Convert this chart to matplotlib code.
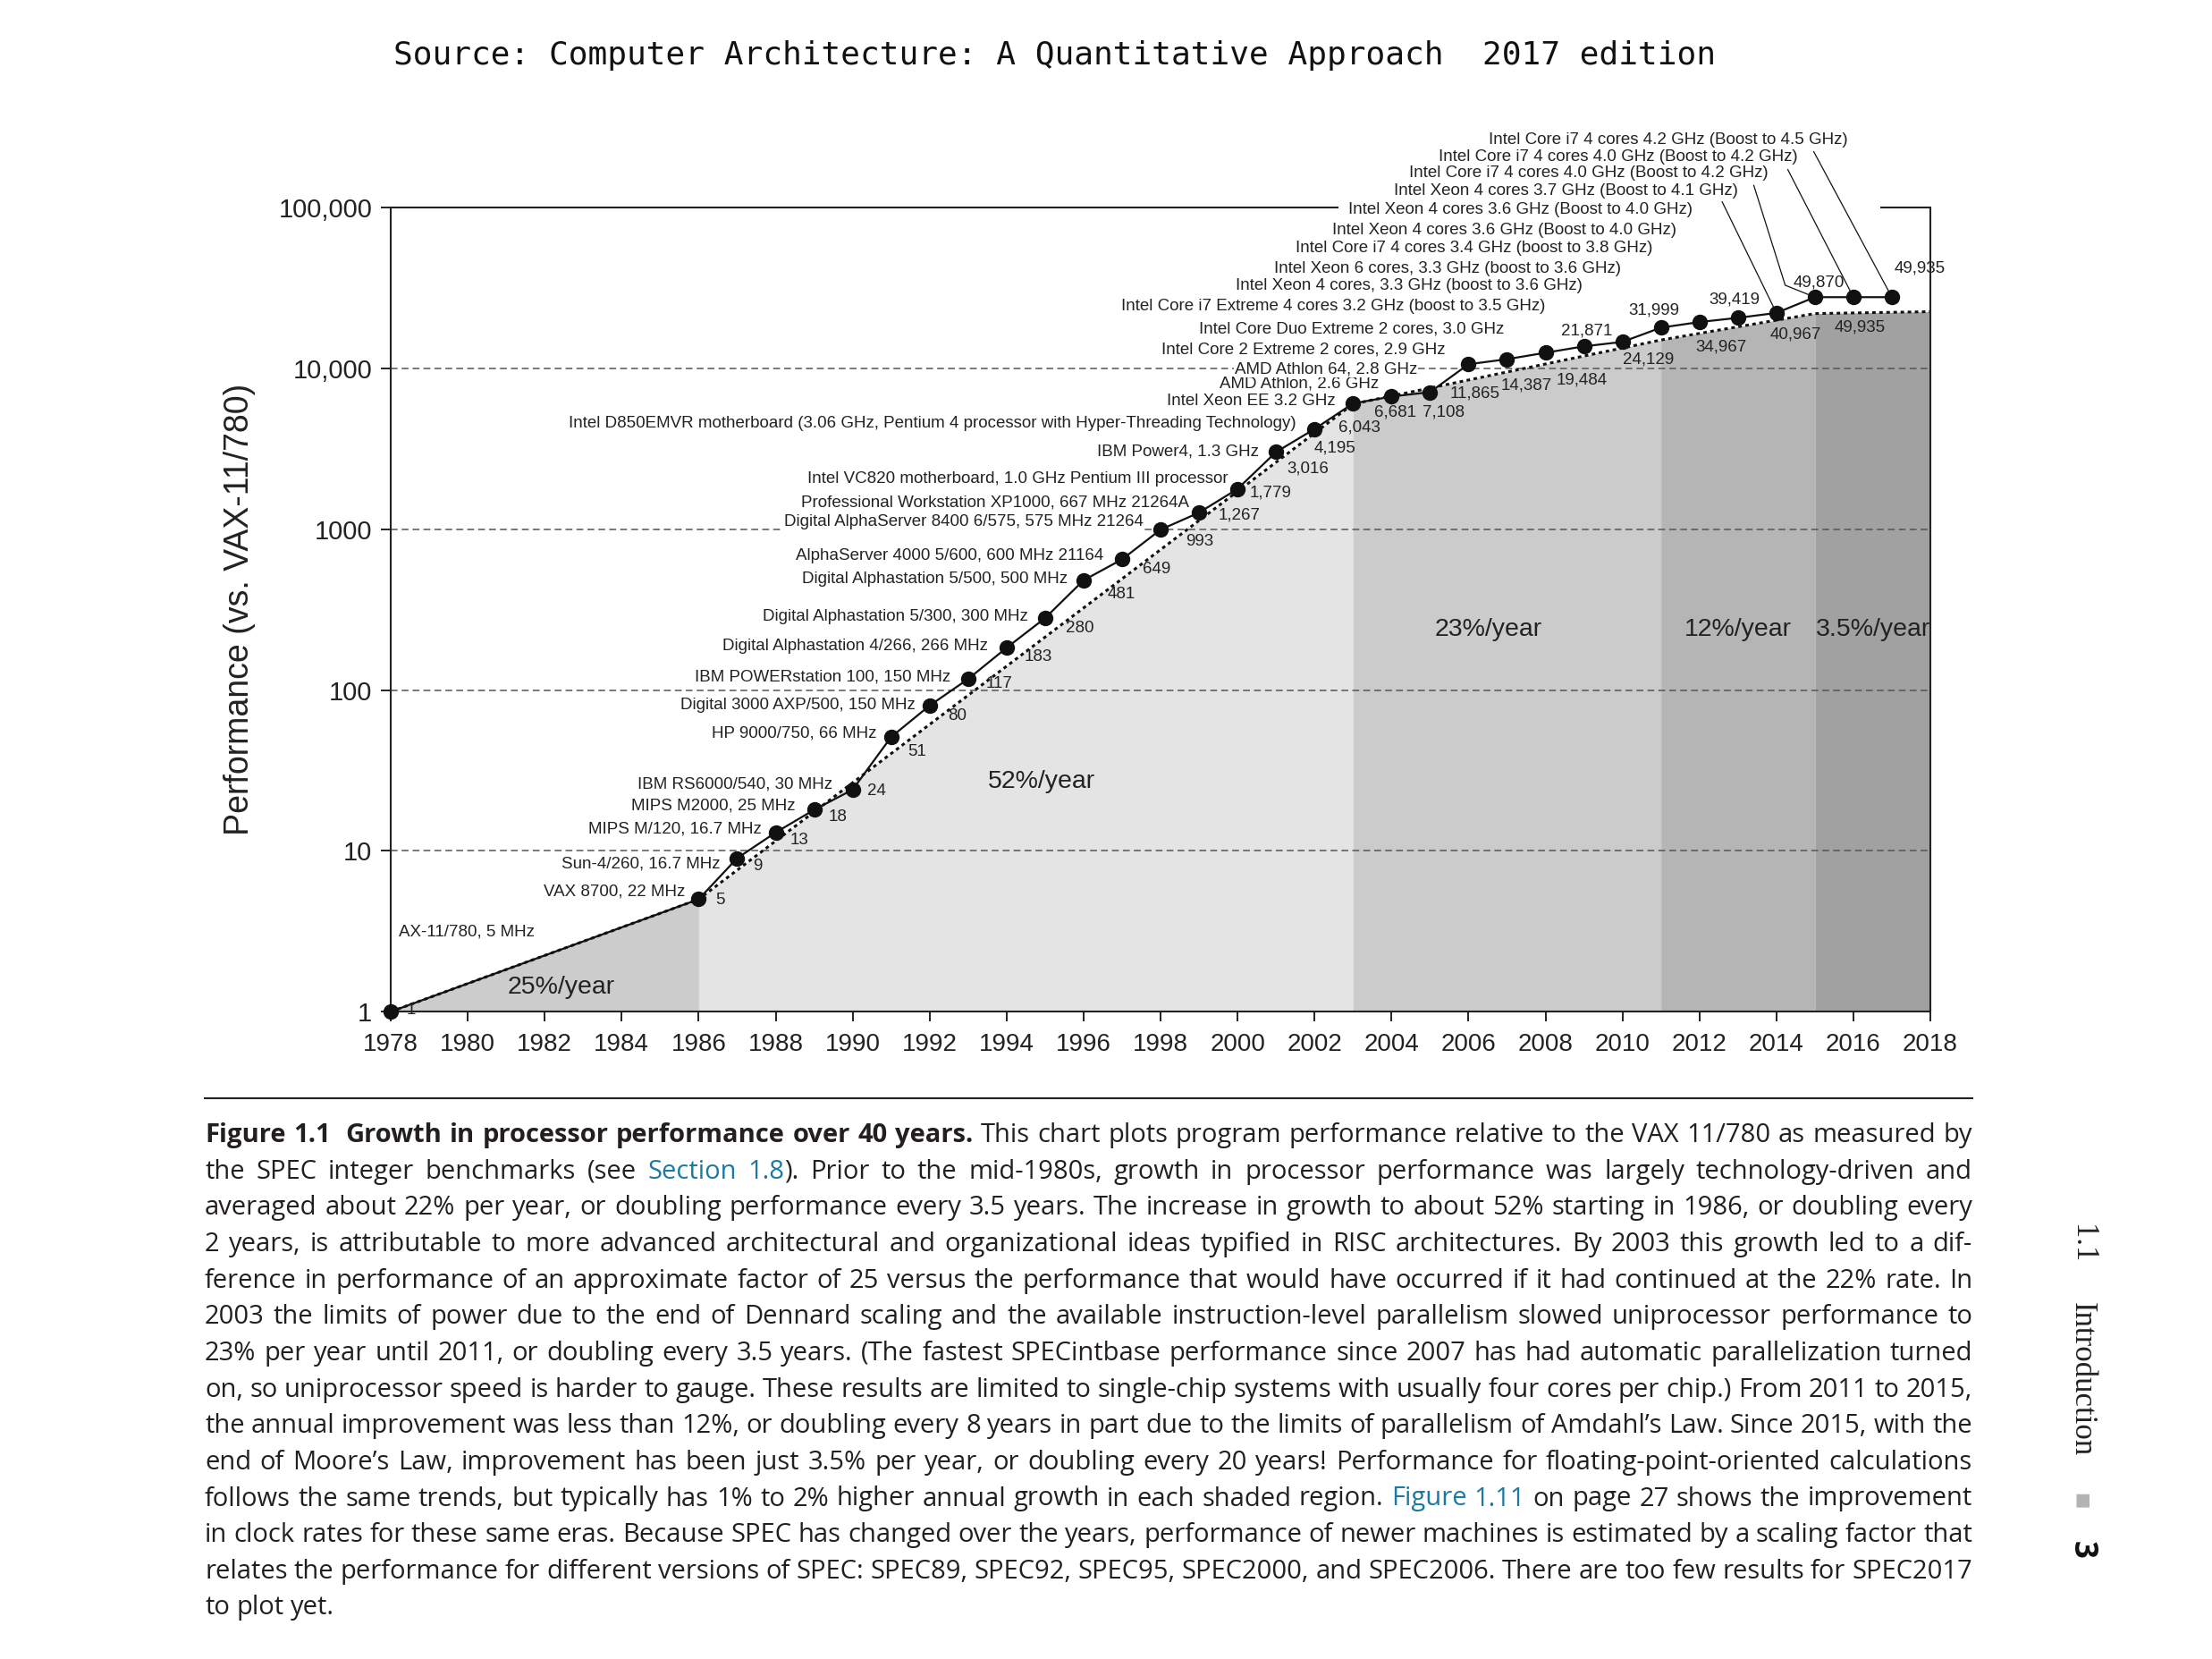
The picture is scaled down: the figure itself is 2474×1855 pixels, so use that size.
import re
import matplotlib
matplotlib.use('Agg')
import matplotlib.pyplot as plt

# processor data (one point per year; late values)
years = [1978] + list(range(1986, 2018))
perf = [1, 5, 9, 13, 18, 24, 51, 80, 117, 183, 280, 481, 649, 993, 1267, 1779,
        3016, 4195, 6043, 6681, 7108, 10600, 11400, 12500, 13700, 14600, 17900,
        19400, 20600, 22100, 27700, 27700, 27700]
perf_labels = ['1', '5', '9', '13', '18', '24', '51', '80', '117', '183', '280', '481',
               '649', '993', '1,267', '1,779', '3,016', '4,195', '6,043', '6,681',
               '7,108', '11,865', '14,387', '19,484', '21,871', '24,129', '31,999',
               '34,967', '39,419', '40,967', '49,870', '49,935', '49,935']
names = [
    'AX-11/780, 5 MHz',
    'VAX 8700, 22 MHz',
    'Sun-4/260, 16.7 MHz',
    'MIPS M/120, 16.7 MHz',
    'MIPS M2000, 25 MHz',
    'IBM RS6000/540, 30 MHz',
    'HP 9000/750, 66 MHz',
    'Digital 3000 AXP/500, 150 MHz',
    'IBM POWERstation 100, 150 MHz',
    'Digital Alphastation 4/266, 266 MHz',
    'Digital Alphastation 5/300, 300 MHz',
    'Digital Alphastation 5/500, 500 MHz',
    'AlphaServer 4000 5/600, 600 MHz 21164',
    'Digital AlphaServer 8400 6/575, 575 MHz 21264',
    'Professional Workstation XP1000, 667 MHz 21264A',
    'Intel VC820 motherboard, 1.0 GHz Pentium III processor',
    'IBM Power4, 1.3 GHz',
    'Intel D850EMVR motherboard (3.06 GHz, Pentium 4 processor with Hyper-Threading Technology)',
    'Intel Xeon EE 3.2 GHz',
    'AMD Athlon, 2.6 GHz',
    'AMD Athlon 64, 2.8 GHz',
    'Intel Core 2 Extreme 2 cores, 2.9 GHz',
    'Intel Core Duo Extreme 2 cores, 3.0 GHz',
    'Intel Core i7 Extreme 4 cores 3.2 GHz (boost to 3.5 GHz)',
    'Intel Xeon 4 cores, 3.3 GHz (boost to 3.6 GHz)',
    'Intel Xeon 6 cores, 3.3 GHz (boost to 3.6 GHz)',
    'Intel Core i7 4 cores 3.4 GHz (boost to 3.8 GHz)',
    'Intel Xeon 4 cores 3.6 GHz (Boost to 4.0 GHz)',
    'Intel Xeon 4 cores 3.6 GHz (Boost to 4.0 GHz)',
    'Intel Xeon 4 cores 3.7 GHz (Boost to 4.1 GHz)',
    'Intel Core i7 4 cores 4.0 GHz (Boost to 4.2 GHz)',
    'Intel Core i7 4 cores 4.0 GHz (Boost to 4.2 GHz)',
    'Intel Core i7 4 cores 4.2 GHz (Boost to 4.5 GHz)',
]

# dotted trend line and shaded eras
trend_years = [1978, 1986, 2003, 2011, 2015, 2018]
trend_perf = [1, 5, 6000, 15000, 21900, 22500]
era_labels = ['25%/year', '52%/year', '23%/year', '12%/year', '3.5%/year']
era_colors = ['#cccccc', '#e4e4e4', '#cbcbcb', '#b5b5b5', '#a1a1a1']
era_label_pos = [(1982.42, 1.41), (1994.9, 26.9), (2006.52, 238), (2013.01, 238), (2016.52, 238)]

ytick_vals = [1, 10, 100, 1000, 10000, 100000]
ytick_labels = ['1', '10', '100', '1000', '10,000', '100,000']

# label offsets from each dot, in points (name: right edge, value: left edge)
name_off = [(6.5, 64), (-11.2, 5.8), (-13.4, -4.3), (-11.7, 2.9), (-15.4, 2.9), (-16.6, 4.3),
            (-11.7, 2.9), (-11.6, 0), (-14.1, 1.9), (-15.2, 1.2), (-13.6, 1.2), (-12.6, 1),
            (-15.2, 2.9), (-13.6, 6), (-8, 8.4), (-7.6, 7.7), (-14.1, 0), (-14.6, 4.3),
            (-14.1, 1.9), (-10, 10), (-10, 18.4), (-18.5, 12), (-2.3, 24), (0, 37.7),
            (-1.4, 48.5), (-1, 58.8), (-6.9, 64), (-18.4, 73.9), (-36.7, 87), (-31, 98),
            (-37.7, 99.6), (-45, 112.8), (-35.3, 126.7)]
val_off = [(13, 1.2), (13.2, -1), (12.4, -6.7), (11.6, -6), (11.6, -6), (11.6, -1.2),
           (13.7, -12), (14.4, -8.4), (14.1, -3.6), (14.1, -7.2), (16.6, -7.9), (19.4, -11.5),
           (16.6, -7.9), (20, -9.4), (15.8, -2.2), (10, -2.9), (8.6, -13.7), (-0.7, -15),
           (-11.9, -19.2), (-13.6, -12.5), (-6.1, -16), (-15, -23.8), (-5, -20.9), (8.5, -22.3),
           (-18.4, 12.5), (0, -14.4), (-26.5, 13.9), (-3.4, -20.4), (-23, 14.9), (-5, -17.5),
           (-17.7, 11.8), (-15, -24), (1.7, 23.5)]
# leader lines for the top labels: year -> list of offset points ending at the dot
leaders = {2014: [(-43.7, 89.5)], 2015: [(-49.2, 90), (-23.9, 9.6)],
           2016: [(-52.8, 102.7)], 2017: [(-62.9, 117.1)]}

cap_lines = [
    "Figure 1.1  Growth in processor performance over 40 years. This chart plots program performance relative to the VAX 11/780 as measured by",
    "the SPEC integer benchmarks (see [Section] [1.8]). Prior to the mid-1980s, growth in processor performance was largely technology-driven and",
    "averaged about 22% per year, or doubling performance every 3.5 years. The increase in growth to about 52% starting in 1986, or doubling every",
    "2 years, is attributable to more advanced architectural and organizational ideas typified in RISC architectures. By 2003 this growth led to a dif-",
    "ference in performance of an approximate factor of 25 versus the performance that would have occurred if it had continued at the 22% rate. In",
    "2003 the limits of power due to the end of Dennard scaling and the available instruction-level parallelism slowed uniprocessor performance to",
    "23% per year until 2011, or doubling every 3.5 years. (The fastest SPECintbase performance since 2007 has had automatic parallelization turned",
    "on, so uniprocessor speed is harder to gauge. These results are limited to single-chip systems with usually four cores per chip.) From 2011 to 2015,",
    "the annual improvement was less than 12%, or doubling every 8 years in part due to the limits of parallelism of Amdahl\u2019s Law. Since 2015, with the",
    "end of Moore\u2019s Law, improvement has been just 3.5% per year, or doubling every 20 years! Performance for floating-point-oriented calculations",
    "follows the same trends, but typically has 1% to 2% higher annual growth in each shaded region. [Figure] [1.11] on page 27 shows the improvement",
    "in clock rates for these same eras. Because SPEC has changed over the years, performance of newer machines is estimated by a scaling factor that",
    "relates the performance for different versions of SPEC: SPEC89, SPEC92, SPEC95, SPEC2000, and SPEC2006. There are too few results for SPEC2017",
    "to plot yet.",
]

FW, FH, DPI = 24.74, 18.55, 100
fig = plt.figure(figsize=(FW, FH), dpi=DPI, facecolor='white')
plt.rcParams['font.family'] = ['Liberation Sans', 'DejaVu Sans']

fig.text(0.4766, 0.9668, 'Source: Computer Architecture: A Quantitative Approach  2017 edition',
         family='DejaVu Sans Mono', fontsize=26, ha='center', va='center', color='#111111')

ax = fig.add_axes([0.17664, 0.39019, 0.69604, 0.48474])
ax.set_yscale('log')
ax.set_xlim(1978, 2018)
ax.set_ylim(1, 100000)

# shaded eras under the trend line
for i in range(len(era_colors)):
    ax.fill_between(trend_years[i:i + 2], 1, trend_perf[i:i + 2], color=era_colors[i], lw=0, zorder=0.5)
for (ex, ey), lab in zip(era_label_pos, era_labels):
    ax.text(ex, ey, lab, fontsize=20.5, ha='center', va='center', color='#222222', zorder=3)

for v in ytick_vals[1:-1]:
    ax.axhline(v, color='#555555', lw=1.1, ls=(0, (5, 3)), zorder=1)

ax.plot(trend_years, trend_perf, color='#111111', lw=2.2, ls=(0, (1.3, 1.3)), zorder=2)
ax.plot(years, perf, color='#111111', lw=1.6, zorder=3)
ax.plot(years, perf, 'o', color='#111111', ms=11.5, zorder=4, clip_on=False)

ax.set_xticks(range(1978, 2019, 2))
ax.set_yticks(ytick_vals)
ax.set_yticklabels(ytick_labels)
ax.minorticks_off()
ax.tick_params(axis='x', labelsize=20, length=8, width=1.4, pad=9, colors='#222222')
ax.tick_params(axis='y', labelsize=21, length=8, width=1.4, pad=7, colors='#222222')
for s in ['left', 'bottom', 'right']:
    ax.spines[s].set_linewidth(1.5)
    ax.spines[s].set_color('#222222')
ax.spines['top'].set_visible(False)
ax.plot([0, 0.6154], [1, 1], transform=ax.transAxes, color='#222222', lw=1.5, clip_on=False,
        solid_capstyle='butt')
ax.plot([0.9674, 1], [1, 1], transform=ax.transAxes, color='#222222', lw=1.5, clip_on=False,
        solid_capstyle='butt')

ax.set_ylabel('Performance (vs. VAX-11/780)', fontsize=27, color='#222222')
ax.yaxis.set_label_coords(-0.0875, 0.5)


def off(x, y, dx, dy):
    px, py = ax.transData.transform((x, y))
    k = fig.dpi / 72
    return ax.transData.inverted().transform((px + dx * k, py + dy * k))


for i, (yr, p) in enumerate(zip(years, perf)):
    dx, dy = name_off[i]
    ax.annotate(names[i], (yr, p), xytext=(dx, dy), textcoords='offset points',
                ha='left' if i == 0 else 'right', va='center', fontsize=13.5, color='#222222',
                annotation_clip=False, zorder=5,
                bbox=dict(boxstyle='square,pad=0.05', fc='white', ec='none') if 0 < i < 30 else None)
    dx, dy = val_off[i]
    ax.annotate(perf_labels[i], (yr, p), xytext=(dx, dy), textcoords='offset points',
                ha='left', va='center', fontsize=13.5, color='#222222', annotation_clip=False, zorder=5)

for yr, pts in leaders.items():
    p = perf[years.index(yr)]
    xs, ys = [], []
    for dx, dy in pts:
        qx, qy = off(yr, p, dx, dy)
        xs.append(qx)
        ys.append(qy)
    xs.append(yr)
    ys.append(p)
    ax.plot(xs, ys, color='#111111', lw=0.9, clip_on=False, zorder=3.5)

# caption rule
fig.add_artist(plt.Line2D([229 / 2474, 2206 / 2474], [1 - 1228 / 1855] * 2, color='#222222', lw=1.5))

# justified caption
cap_fs = 21
text_col = '#231f20'
link_col = '#1b7aa3'
renderer = fig.canvas.get_renderer()
fig_w, fig_h = FW * DPI, FH * DPI
rows = []
for i, line in enumerate(cap_lines):
    row = []
    for j, w in enumerate(line.split(' ')):
        segs = []
        for part in re.split(r'(\[[^\]]*\])', w):
            if not part:
                continue
            link = part.startswith('[')
            t = fig.text(0, 0, part.strip('[]'), fontsize=cap_fs, family='Open Sans',
                         fontweight='bold' if (i == 0 and j < 10) else 'normal',
                         color=link_col if link else text_col, va='baseline', ha='left')
            segs.append(t)
        row.append(segs)
    rows.append(row)

x0, x1 = 229, 2206
W = x1 - x0
space = 0.26 * cap_fs * DPI / 72


def seg_widths(row):
    return [[t.get_window_extent(renderer).width for t in segs] for segs in row]


worst = max((sum(map(sum, seg_widths(r))) + (len(r) - 1) * space * 0.75) / W for r in rows[:-1])
if worst > 1:
    for r in rows:
        for segs in r:
            for t in segs:
                t.set_fontsize(cap_fs / worst)
    space /= worst

base = 1855 - 1277
step = 40.65
for i, r in enumerate(rows):
    ws = seg_widths(r)
    S = sum(map(sum, ws))
    gap = (W - S) / (len(r) - 1) if i < len(rows) - 1 else space
    x = x0
    y = base - i * step
    for segs, wl in zip(r, ws):
        for t, w in zip(segs, wl):
            t.set_position((x / fig_w, y / fig_h))
            x += w
        x += gap

# running head at the right margin
fig.text(0.941, 1 - 1391 / 1855, '1.1', rotation=-90, family='Liberation Serif', fontsize=25,
         ha='center', va='center', color='#222222')
fig.text(0.941, 1 - 1542 / 1855, 'Introduction', rotation=-90, family='Liberation Serif', fontsize=25,
         ha='center', va='center', color='#222222')
fig.text(0.941, 1 - 1678 / 1855, '\u25a0', rotation=-90, family='DejaVu Sans', fontsize=14,
         ha='center', va='center', color='#b3b3b3')
fig.text(0.941, 1 - 1733 / 1855, '3', rotation=-90, family='Open Sans', fontweight='bold', fontsize=25,
         ha='center', va='center', color='#111111')

fig.savefig('out.png', dpi=DPI, facecolor='white')
